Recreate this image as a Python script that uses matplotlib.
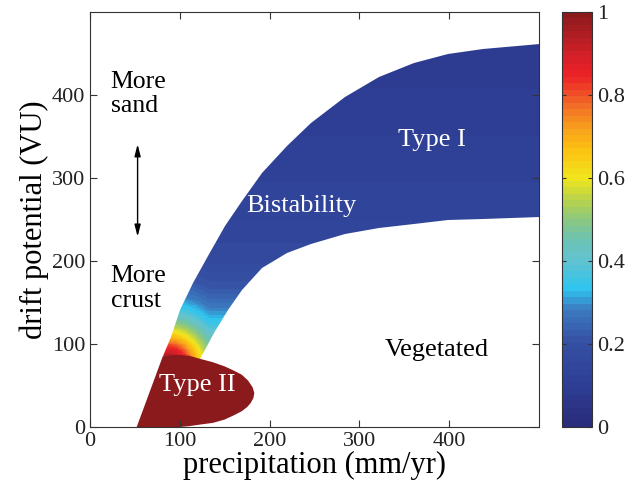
import numpy as np
import matplotlib
matplotlib.use('Agg')
from matplotlib import pyplot as plt
from matplotlib.colors import LinearSegmentedColormap
from matplotlib.patches import Polygon

plt.rcParams['font.family'] = ['Liberation Serif', 'DejaVu Serif']

# left (upper) edge of the bistable band, precipitation / drift potential
left_x = [52, 81, 90, 100, 115, 131, 150, 169, 192, 219, 246, 284, 322, 361, 399, 438, 501]
left_y = [0, 85, 109, 141, 173, 206, 242, 272, 306, 338, 366, 398, 422, 439, 449, 455, 461]

# right (lower) edge of the band, from the notch to the right border
right_x = [123, 138, 154, 169, 192, 219, 246, 284, 322, 361, 399, 438, 501]
right_y = [82, 113, 141, 165, 192, 210, 220, 232, 240, 245, 249, 251, 253]

# Type II region outline
type2_x = [52, 81, 95, 110, 123, 137, 150, 160, 169, 176, 181, 183, 182, 179, 175, 169, 160, 150, 137, 123, 110, 100]
type2_y = [0, 85, 87, 86, 82, 78, 73, 68, 63, 56, 48, 41, 35, 29, 24, 19, 14, 9, 5, 3, 1, 0]

# colour value against distance (screen px) from the band foot
prof_d = [0, 8, 17, 25, 32, 40, 50, 58, 70, 85, 110, 150, 200, 260, 320, 400]
prof_v = [1.0, 0.95, 0.85, 0.72, 0.62, 0.52, 0.42, 0.35, 0.28, 0.22, 0.17, 0.14, 0.12, 0.10, 0.08, 0.07]
foot_x, foot_y = 88, 75

# muted jet-like colours from the colorbar
cmap_pos = [0.0, 0.1, 0.2, 0.28, 0.33, 0.40, 0.45, 0.5, 0.56, 0.6, 0.67, 0.72, 0.78, 0.85, 0.9, 1.0]
cmap_col = ['#2a2c7c', '#2e3f95', '#3550a3', '#3c7bc0', '#2ec4ef', '#62c3d0', '#6cc2b4', '#8dc77e',
            '#c3d640', '#f0e61e', '#fcc111', '#f8a21c', '#f26b27', '#ec2227', '#d42028', '#8b1a1d']

cmap = LinearSegmentedColormap.from_list('muted_jet', list(zip(cmap_pos, cmap_col))).resampled(64)

fig = plt.figure(figsize=(6.4, 4.87), dpi=100)
ax = fig.add_axes([90/640, 60/487, 449/640, 415/487])
cax = fig.add_axes([562/640, 60/487, 30/640, 415/487])

gx = np.linspace(0, 500, 501)
gy = np.linspace(0, 500, 501)
X, Y = np.meshgrid(gx, gy)
dx = np.clip((X - foot_x) * 0.897, None, 40)
dy = (Y - foot_y) * 0.83
V = np.interp(np.hypot(dx, dy), prof_d, prof_v)

band = list(zip(left_x[1:], left_y[1:])) + list(zip(right_x[::-1], right_y[::-1])) + [(110, 40)]
clip = Polygon(band, closed=True, transform=ax.transData, facecolor='none', edgecolor='none')
mesh = ax.pcolormesh(X, Y, V, cmap=cmap, vmin=0, vmax=1, shading='auto', rasterized=True)
mesh.set_clip_path(clip)

ax.add_patch(Polygon(list(zip(type2_x, type2_y)), closed=True, facecolor=cmap(1.0), edgecolor='none'))

ax.set_xlim(0, 500)
ax.set_ylim(0, 500)
ax.set_xticks([0, 100, 200, 300, 400])
ax.set_yticks([0, 100, 200, 300, 400])
ax.tick_params(direction='in', top=True, right=True, labelsize=16, length=5, colors='#333333', labelcolor='#222222')
for s in ax.spines.values():
    s.set_color('#333333')
ax.set_xlabel('precipitation (mm/yr)', fontsize=22, labelpad=0)
ax.set_ylabel('drift potential (VU)', fontsize=22, labelpad=2)

ax.text(23, 401, 'More\nsand', fontsize=18.5, ha='left', va='center', linespacing=1.15)
ax.text(23, 167, 'More\ncrust', fontsize=18.5, ha='left', va='center', linespacing=1.15)
ax.annotate('', xy=(53, 344), xytext=(53, 226),
            arrowprops=dict(arrowstyle='<|-|>,head_length=0.7,head_width=0.18', color='black', lw=1))
ax.text(381, 346, 'Type I', fontsize=19, color='white', ha='center', va='center')
ax.text(235, 266, 'Bistability', fontsize=19, color='white', ha='center', va='center')
ax.text(386, 93, 'Vegetated', fontsize=19, ha='center', va='center')
ax.text(120, 50, 'Type II', fontsize=19, color='white', ha='center', va='center')

cb = fig.colorbar(mesh, cax=cax, ticks=[0, 0.2, 0.4, 0.6, 0.8, 1])
cb.ax.set_yticklabels(['0', '0.2', '0.4', '0.6', '0.8', '1'])
cb.ax.tick_params(direction='in', left=True, right=True, labelsize=16, length=3, colors='#333333', labelcolor='#222222')
cb.outline.set_edgecolor('#333333')

fig.savefig('out.png', dpi=100)
